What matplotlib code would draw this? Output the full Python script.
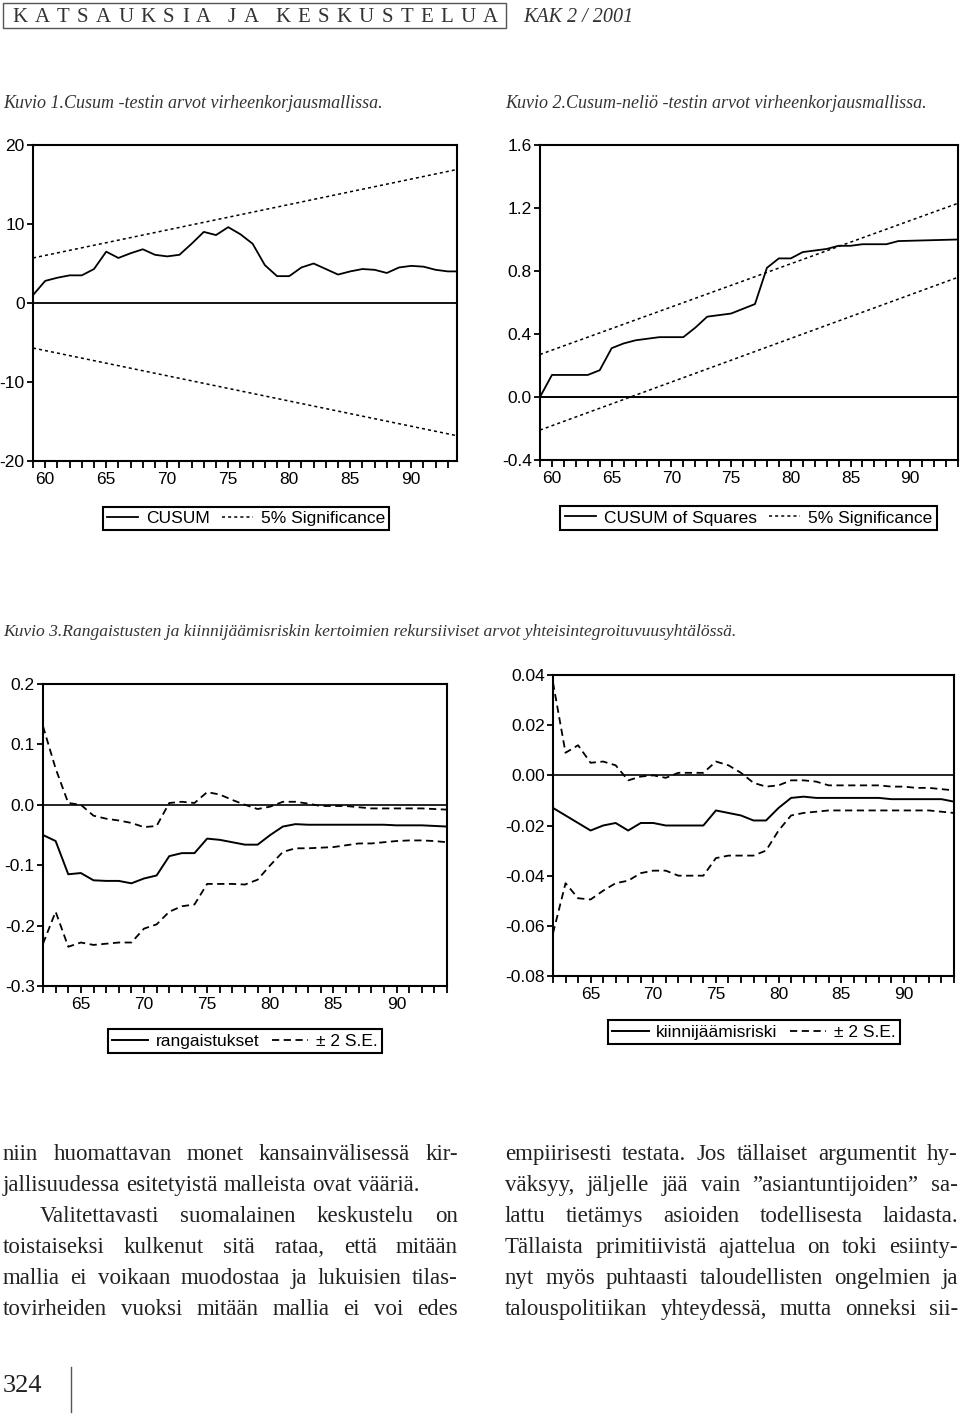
import matplotlib
matplotlib.use('Agg')
import matplotlib.pyplot as plt
from matplotlib.ticker import MultipleLocator, FuncFormatter
from matplotlib.patches import Rectangle
from matplotlib.lines import Line2D

W, H = 960, 1417

# Kuvio 1: CUSUM
cusum_years = list(range(59, 94)) + [93.75]
cusum = [1.0, 2.8, 3.2, 3.5, 3.5, 4.3, 6.5, 5.7, 6.3, 6.8, 6.1, 5.9, 6.1, 7.5,
         9.0, 8.6, 9.6, 8.7, 7.5, 4.8, 3.4, 3.4, 4.5, 5.0, 4.3, 3.6, 4.0, 4.3,
         4.2, 3.8, 4.5, 4.7, 4.6, 4.2, 4.0, 4.0]
cusum_sig_years = [59, 93.75]
cusum_sig_hi = [5.7, 16.9]
cusum_sig_lo = [-5.7, -16.8]

# Kuvio 2: CUSUM of squares
sq_years = [59, 60, 63, 64, 65, 66, 67, 68, 69, 71, 72, 73, 74, 75, 76, 77, 78,
            79, 80, 81, 82, 83, 84, 85, 86, 88, 89, 94]
sq = [0.0, 0.14, 0.14, 0.17, 0.31, 0.34, 0.36, 0.37, 0.38, 0.38, 0.44, 0.51,
      0.52, 0.53, 0.56, 0.59, 0.82, 0.88, 0.88, 0.92, 0.93, 0.94, 0.96, 0.96,
      0.97, 0.97, 0.99, 1.0]
sq_sig_years = [59, 94]
sq_sig_hi = [0.27, 1.23]
sq_sig_lo = [-0.21, 0.76]

# Kuvio 3: recursive coefficients
rec_years = list(range(62, 95))
pen = [-0.050, -0.060, -0.115, -0.113, -0.125, -0.126, -0.126, -0.130, -0.122,
       -0.117, -0.085, -0.080, -0.080, -0.056, -0.058, -0.062, -0.066, -0.066,
       -0.050, -0.036, -0.032, -0.033, -0.033, -0.033, -0.033, -0.033, -0.033,
       -0.033, -0.034, -0.034, -0.034, -0.035, -0.036]
pen_hi = [0.130, 0.060, 0.003, 0.000, -0.018, -0.023, -0.026, -0.030, -0.037,
          -0.035, 0.003, 0.005, 0.003, 0.021, 0.017, 0.008, 0.000, -0.007,
          -0.003, 0.005, 0.005, 0.002, -0.002, -0.002, -0.002, -0.004, -0.006,
          -0.006, -0.006, -0.006, -0.006, -0.007, -0.008]
pen_lo = [-0.230, -0.177, -0.235, -0.228, -0.232, -0.230, -0.228, -0.228,
          -0.205, -0.198, -0.177, -0.168, -0.165, -0.131, -0.131, -0.131,
          -0.132, -0.124, -0.100, -0.078, -0.072, -0.072, -0.071, -0.070,
          -0.067, -0.064, -0.064, -0.062, -0.060, -0.059, -0.059, -0.060, -0.062]
risk = [-0.013, -0.016, -0.019, -0.022, -0.020, -0.019, -0.022, -0.019, -0.019,
        -0.020, -0.020, -0.020, -0.020, -0.014, -0.015, -0.016, -0.018, -0.018,
        -0.013, -0.009, -0.0085, -0.009, -0.009, -0.009, -0.009, -0.009, -0.009,
        -0.0095, -0.0095, -0.0095, -0.0095, -0.0095, -0.0105]
risk_hi = [0.037, 0.009, 0.012, 0.005, 0.0055, 0.004, -0.002, -0.0005, 0.0,
           -0.001, 0.001, 0.001, 0.001, 0.0055, 0.004, 0.001, -0.003, -0.0045,
           -0.004, -0.002, -0.002, -0.0025, -0.004, -0.004, -0.004, -0.004,
           -0.004, -0.0045, -0.0045, -0.005, -0.005, -0.0055, -0.006]
risk_lo = [-0.063, -0.043, -0.049, -0.0495, -0.046, -0.043, -0.042, -0.039,
           -0.038, -0.038, -0.040, -0.040, -0.040, -0.033, -0.032, -0.032,
           -0.032, -0.030, -0.022, -0.016, -0.015, -0.0145, -0.014, -0.014,
           -0.014, -0.014, -0.014, -0.014, -0.014, -0.014, -0.014, -0.0145, -0.015]

left_col = ["niin huomattavan monet kansainvälisessä kir-",
            "jallisuudessa esitetyistä malleista ovat vääriä.",
            "Valitettavasti suomalainen keskustelu on",
            "toistaiseksi kulkenut sitä rataa, että mitään",
            "mallia ei voikaan muodostaa ja lukuisien tilas-",
            "tovirheiden vuoksi mitään mallia ei voi edes"]
right_col = ["empiirisesti testata. Jos tällaiset argumentit hy-",
             "väksyy, jäljelle jää vain ”asiantuntijoiden” sa-",
             "lattu tietämys asioiden todellisesta laidasta.",
             "Tällaista primitiivistä ajattelua on toki esiinty-",
             "nyt myös puhtaasti taloudellisten ongelmien ja",
             "talouspolitiikan yhteydessä, mutta onneksi sii-"]

SANS = ['Liberation Sans', 'DejaVu Sans']
SERIF = ['Liberation Serif', 'DejaVu Serif']

fig = plt.figure(figsize=(W / 100, H / 100), dpi=100)
renderer = fig.canvas.get_renderer()


def box(l, t, r, b):
    return fig.add_axes([l / W, 1 - b / H, (r - l) / W, (b - t) / H])


def fy(y):
    return 1 - y / H


def style(ax, x0, x1, y0, y1, ystep, fmt):
    ax.set_xlim(x0, x1)
    ax.set_ylim(y0, y1)
    ax.xaxis.set_major_locator(MultipleLocator(1))
    ax.xaxis.set_major_formatter(FuncFormatter(
        lambda v, p: f'{int(round(v))}' if round(v) % 5 == 0 else ''))
    ax.yaxis.set_major_locator(MultipleLocator(ystep))
    ax.yaxis.set_major_formatter(FuncFormatter(
        lambda v, p: fmt.format(0 if abs(v) < 1e-9 else v)))
    ax.tick_params(direction='out', length=4, width=1.3, labelsize=12.5, pad=2)
    ax.tick_params(axis='x', length=5, pad=3)
    for lab in ax.get_xticklabels() + ax.get_yticklabels():
        lab.set_family(SANS)
    for s in ax.spines.values():
        s.set_linewidth(1.5)


def legend(ax, handles, labels, l, t, r, b, hl=1.8):
    leg = ax.legend(handles, labels, loc='center',
                    bbox_to_anchor=((l + r) / 2 / W, fy((t + b) / 2)),
                    bbox_transform=fig.transFigure, ncol=2, frameon=True,
                    fancybox=False, edgecolor='black', framealpha=1,
                    prop={'family': SANS, 'size': 12.5}, handlelength=hl,
                    handletextpad=0.45, columnspacing=0.7, borderpad=0.25,
                    borderaxespad=0)
    leg.get_frame().set_linewidth(1.5)


dots = (0, (2, 2))
dash = (0, (4, 2.5))

# Kuvio 1
ax1 = box(33, 145, 457, 461)
l1, = ax1.plot(cusum_years, cusum, color='black', lw=1.3)
l2, = ax1.plot(cusum_sig_years, cusum_sig_hi, color='black', lw=1.1, ls=dots)
ax1.plot(cusum_sig_years, cusum_sig_lo, color='black', lw=1.1, ls=dots)
ax1.axhline(0, color='black', lw=1.3)
style(ax1, 59, 93.75, -20, 20, 10, '{:.0f}')
legend(ax1, [l1, l2], ['CUSUM', '5% Significance'], 103, 505, 389, 532)

# Kuvio 2
ax2 = box(540, 145, 958, 460)
l1, = ax2.plot(sq_years, sq, color='black', lw=1.3)
l2, = ax2.plot(sq_sig_years, sq_sig_hi, color='black', lw=1.1, ls=dots)
ax2.plot(sq_sig_years, sq_sig_lo, color='black', lw=1.1, ls=dots)
ax2.axhline(0, color='black', lw=1.4)
style(ax2, 59, 94, -0.4, 1.6, 0.4, '{:.1f}')
legend(ax2, [l1, l2], ['CUSUM of Squares', '5% Significance'], 565, 506, 932, 530)

# Kuvio 3 vasen
ax3 = box(43, 684, 447, 986)
l1, = ax3.plot(rec_years, pen, color='black', lw=1.4)
l2, = ax3.plot(rec_years, pen_hi, color='black', lw=1.3, ls=dash)
ax3.plot(rec_years, pen_lo, color='black', lw=1.3, ls=dash)
ax3.axhline(0, color='black', lw=1.2)
style(ax3, 62, 94, -0.3, 0.2, 0.1, '{:.1f}')
legend(ax3, [l1, l2], ['rangaistukset', '± 2 S.E.'], 113, 1029, 377, 1053, hl=2.1)

# Kuvio 3 oikea
ax4 = box(553, 675, 954, 976)
l1, = ax4.plot(rec_years, risk, color='black', lw=1.4)
l2, = ax4.plot(rec_years, risk_hi, color='black', lw=1.3, ls=dash)
ax4.plot(rec_years, risk_lo, color='black', lw=1.3, ls=dash)
ax4.axhline(0, color='black', lw=1.2)
style(ax4, 62, 94, -0.08, 0.04, 0.02, '{:.2f}')
legend(ax4, [l1, l2], ['kiinnijäämisriski', '± 2 S.E.'], 611, 1020, 897, 1044, hl=2.1)

# header: spaced capitals spread across the box
fig.add_artist(Rectangle((3 / W, fy(28)), 503 / W, 25 / H, fill=False,
                         transform=fig.transFigure, lw=1, edgecolor='#555555'))
header_words = ['KATSAUKSIA', 'JA', 'KESKUSTELUA']
letters = []
for wi, word in enumerate(header_words):
    for ci, ch in enumerate(word):
        t = fig.text(0, fy(22), ch, family=SERIF, size=15, color='#333333',
                     va='baseline')
        letters.append((t, t.get_window_extent(renderer).width,
                        wi > 0 and ci == 0))
n_gaps = len(letters) - 1 + 1.3 * (len(header_words) - 1)
g = (498 - 12 - sum(w for _, w, _ in letters)) / n_gaps
x = 12
for t, w, new_word in letters:
    if new_word:
        x += 1.3 * g
    t.set_x(x / W)
    x += w + g
fig.text(523 / W, fy(22), 'KAK 2 / 2001', family=SERIF, style='italic',
         size=14.5, color='#333333', va='baseline')

cap = dict(family=SERIF, style='italic', size=13, color='#333333', va='center')
fig.text(3 / W, fy(104), 'Kuvio 1.Cusum -testin arvot virheenkorjausmallissa.', **cap)
fig.text(505 / W, fy(104), 'Kuvio 2.Cusum-neliö -testin arvot virheenkorjausmallissa.', **cap)
fig.text(3 / W, fy(632), 'Kuvio 3.Rangaistusten ja kiinnijäämisriskin kertoimien '
         'rekursiiviset arvot yhteisintegroituvuusyhtälössä.',
         **dict(cap, size=12.6))


def text_line(line, x0, x1, y, fill):
    words = line.split()
    texts = [fig.text(0, fy(y), w, family=SERIF, size=16.5, color='#222222',
                      va='baseline') for w in words]
    widths = [t.get_window_extent(renderer).width for t in texts]
    if fill and len(words) > 1:
        gap = (x1 - x0 - sum(widths)) / (len(words) - 1)
    else:
        gap = 6
    x = x0
    for t, w in zip(texts, widths):
        t.set_x(x / W)
        x += w + gap


for i, line in enumerate(left_col):
    x0 = 40 if i == 2 else 3
    text_line(line, x0, 458, 1160 + 31 * i, i != 1)
for i, line in enumerate(right_col):
    text_line(line, 505, 958, 1160 + 31 * i, True)

fig.text(3 / W, fy(1392), '324', family=SERIF, size=19, color='#222222',
         va='baseline')
fig.add_artist(Line2D([71 / W, 71 / W], [fy(1367), fy(1412)], lw=1,
                      color='#555555', transform=fig.transFigure))

fig.savefig('out.png', dpi=100)
